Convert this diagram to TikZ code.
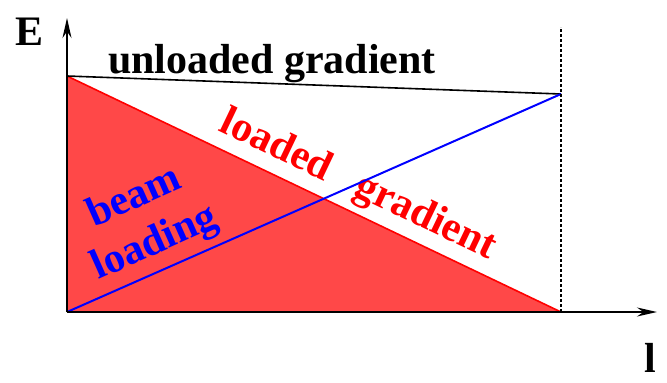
\documentclass[tikz,border=0pt]{standalone}
\usepackage{fontspec}
\setmainfont{Liberation Serif}[BoldFont={Liberation Serif Bold}]
\usetikzlibrary{positioning,arrows.meta}
\definecolor{fieldred}{RGB}{255,72,72}

\begin{document}
\begin{tikzpicture}[x=0.5pt,y=0.5pt,
 every node/.style={font=\rmfamily\bfseries\fontsize{21}{25}\selectfont},
 axis/.style={line width=1pt,-{Stealth[length=10pt,width=4.5pt]}},
 gradtext/.style={sloped,above=1pt,inner sep=2pt}]
 \useasboundingbox (0,0) rectangle (667,382);
 \coordinate (origin) at (67,70);
 \coordinate (unloaded) at (67,306);
 \coordinate (foot) at (561,70);
 \coordinate (loaded) at (561,288);
 \coordinate (ytip) at (67,364);
 \coordinate (xtip) at (657,70);
 \coordinate (limit) at (561,355);

 \fill[fieldred] (unloaded) -- (foot) -- (origin) -- cycle;
 \path[draw,red,line width=0.8pt] (unloaded) -- (foot)
   node[gradtext,pos=0.566,text=red] (loadedgrad) {loaded\hspace{.73em}gradient};
 \path[draw,line width=0.8pt] (unloaded) edge (loaded);
 \path[draw,blue,line width=1pt] (origin) edge (loaded);
 \path[draw,line width=0.8pt,dash pattern=on 1.3pt off 1.2pt] (foot) edge (limit);

 \path[draw] (origin) edge [axis] (ytip);
 \path[draw] (origin) edge [axis] (xtip);

 \node[anchor=base west] (elabel) at (8,337) {E};
 \node[anchor=base west] (llabel) at (637,10) {l};
 \node[anchor=base west] (unloadedgrad) at (101,309) {unloaded gradient};
 \node[rotate=24,align=center,text=blue] (beamloading) at (145,161) {beam\\loading};
\end{tikzpicture}
\end{document}
